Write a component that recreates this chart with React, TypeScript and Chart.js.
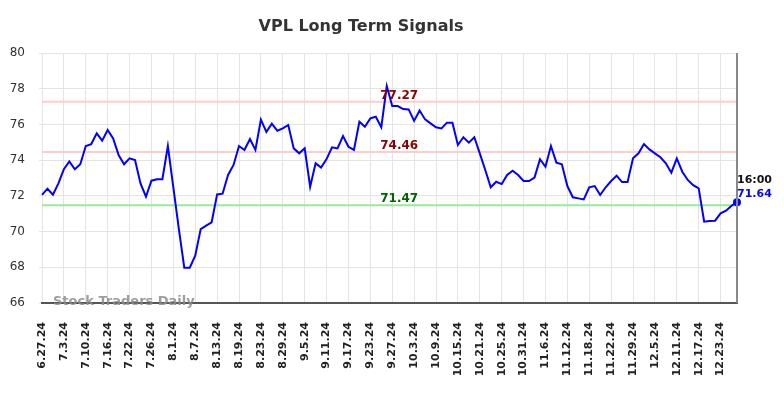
import { useEffect, useRef } from "react";
import { Chart, registerables } from "chart.js";
Chart.register(...registerables);

const dates: string[] = [
  "6.27.24", "6.28.24",
  "7.1.24", "7.2.24", "7.3.24", "7.5.24", "7.8.24", "7.9.24", "7.10.24", "7.11.24", "7.12.24", "7.15.24", "7.16.24", "7.17.24", "7.18.24", "7.19.24", "7.22.24", "7.23.24", "7.24.24", "7.25.24", "7.26.24", "7.29.24", "7.30.24", "7.31.24",
  "8.1.24", "8.2.24", "8.5.24", "8.6.24", "8.7.24", "8.8.24", "8.9.24", "8.12.24", "8.13.24", "8.14.24", "8.15.24", "8.16.24", "8.19.24", "8.20.24", "8.21.24", "8.22.24", "8.23.24", "8.26.24", "8.27.24", "8.28.24", "8.29.24", "8.30.24",
  "9.3.24", "9.4.24", "9.5.24", "9.6.24", "9.9.24", "9.10.24", "9.11.24", "9.12.24", "9.13.24", "9.16.24", "9.17.24", "9.18.24", "9.19.24", "9.20.24", "9.23.24", "9.24.24", "9.25.24", "9.26.24", "9.27.24", "9.30.24",
  "10.1.24", "10.2.24", "10.3.24", "10.4.24", "10.7.24", "10.8.24", "10.9.24", "10.10.24", "10.11.24", "10.14.24", "10.15.24", "10.16.24", "10.17.24", "10.18.24", "10.21.24", "10.22.24", "10.23.24", "10.24.24", "10.25.24", "10.28.24", "10.29.24", "10.30.24", "10.31.24",
  "11.1.24", "11.4.24", "11.5.24", "11.6.24", "11.7.24", "11.8.24", "11.11.24", "11.12.24", "11.13.24", "11.14.24", "11.15.24", "11.18.24", "11.19.24", "11.20.24", "11.21.24", "11.22.24", "11.25.24", "11.26.24", "11.27.24", "11.29.24",
  "12.2.24", "12.3.24", "12.4.24", "12.5.24", "12.6.24", "12.9.24", "12.10.24", "12.11.24", "12.12.24", "12.13.24", "12.16.24", "12.17.24", "12.18.24", "12.19.24", "12.20.24", "12.23.24", "12.24.24", "12.26.24", "12.27.24",
];

const closes: number[] = [
  72.05, 72.4, 72.06, 72.7, 73.49, 73.93, 73.49, 73.77, 74.79, 74.9,
  75.5, 75.09, 75.69, 75.22, 74.29, 73.77, 74.1, 74.0, 72.7, 71.95,
  72.85, 72.93, 72.93, 74.79, 72.48, 70.16, 67.98, 67.98, 68.65, 70.14,
  70.33, 70.52, 72.08, 72.12, 73.17, 73.73, 74.79, 74.57, 75.18, 74.57,
  76.27, 75.58, 76.04, 75.65, 75.78, 75.97, 74.66, 74.38, 74.66, 72.51,
  73.82, 73.58, 74.06, 74.72, 74.66, 75.35, 74.75, 74.57, 76.15, 75.87,
  76.34, 76.43, 75.84, 78.15, 77.03, 77.03, 76.86, 76.84, 76.2, 76.78,
  76.28, 76.06, 75.84, 75.78, 76.1, 76.1, 74.85, 75.28, 74.98, 75.28,
  74.38, 73.45, 72.48, 72.79, 72.66, 73.17, 73.41, 73.17, 72.83, 72.83,
  73.02, 74.05, 73.63, 74.79, 73.86, 73.77, 72.55, 71.92, 71.86, 71.8,
  72.48, 72.55, 72.05, 72.48, 72.83, 73.13, 72.77, 72.77, 74.1, 74.38,
  74.9, 74.6, 74.38, 74.16, 73.82, 73.3, 74.1, 73.35, 72.89, 72.6,
  72.42, 70.55, 70.59, 70.61, 71.02, 71.17, 71.45, 71.64,
];

const levelValues: number[] = [77.27, 74.46, 71.47];
const levelLineColors: string[] = ["#ffcccc", "#ffcccc", "#9be89b"];
const levelTextColors: string[] = ["#8b0000", "#8b0000", "#006400"];
const lastTime = "16:00";
const titleText = "VPL Long Term Signals";
const watermark = "Stock Traders Daily";

export default function App() {
  const ref = useRef<HTMLCanvasElement>(null);
  useEffect(() => {
    document.body.style.margin = "0";
    Chart.defaults.font.family = "'DejaVu Sans', sans-serif";
    const overlay = {
      id: "overlay",
      beforeDatasetsDraw(chart: any) {
        const { ctx, chartArea } = chart;
        const y = chart.scales.y;
        ctx.save();
        levelValues.forEach((v, i) => {
          const py = y.getPixelForValue(v);
          ctx.strokeStyle = levelLineColors[i];
          ctx.lineWidth = 2;
          ctx.beginPath();
          ctx.moveTo(chartArea.left, py);
          ctx.lineTo(chartArea.right, py);
          ctx.stroke();
        });
        ctx.restore();
      },
      afterDraw(chart: any) {
        const { ctx, chartArea } = chart;
        const y = chart.scales.y;
        const x = chart.scales.x;
        ctx.save();
        const cx = chartArea.left + (chartArea.right - chartArea.left) * 0.514;
        ctx.font = "bold 12px 'DejaVu Sans'";
        ctx.textAlign = "center";
        ctx.textBaseline = "alphabetic";
        levelValues.forEach((v, i) => {
          const py = y.getPixelForValue(v);
          ctx.fillStyle = levelTextColors[i];
          ctx.fillText(v.toFixed(2), cx, py - 3);
        });
        ctx.strokeStyle = "#888888";
        ctx.lineWidth = 2;
        ctx.beginPath();
        ctx.moveTo(chartArea.right, chartArea.top);
        ctx.lineTo(chartArea.right, chartArea.bottom);
        ctx.stroke();
        const last = closes.length - 1;
        const lx = x.getPixelForValue(last);
        const ly = y.getPixelForValue(closes[last]);
        ctx.font = "bold 11px 'DejaVu Sans'";
        ctx.textAlign = "left";
        ctx.fillStyle = "#111111";
        ctx.fillText(lastTime, lx, ly - 19);
        ctx.fillStyle = "#0000ff";
        ctx.fillText(closes[last].toFixed(2), lx, ly - 5);
        ctx.font = "bold 16px 'DejaVu Sans'";
        ctx.textAlign = "center";
        ctx.textBaseline = "middle";
        ctx.fillStyle = "#333333";
        ctx.fillText(titleText, 361, 27);
        ctx.font = "bold 13px 'DejaVu Sans'";
        ctx.textAlign = "left";
        ctx.fillStyle = "rgba(140,140,140,0.85)";
        ctx.fillText(watermark, chartArea.left + 11, chartArea.bottom - 1);
        ctx.restore();
      },
    };
    const chart = new Chart(ref.current!, {
      type: "line",
      data: {
        labels: dates,
        datasets: [
          {
            data: closes,
            borderColor: "#0000ff",
            backgroundColor: "#0000ff",
            borderWidth: 2,
            tension: 0,
            pointRadius: (c: any) => (c.dataIndex === closes.length - 1 ? 4 : 0),
            pointBackgroundColor: "#0000ff",
            pointBorderWidth: 0,
          },
        ],
      },
      options: {
        responsive: false,
        animation: false,
        devicePixelRatio: 1,
        layout: { padding: { top: 53, right: 47, left: 0, bottom: 0 } },
        plugins: { legend: { display: false }, tooltip: { enabled: false }, title: { display: false } },
        scales: {
          x: {
            type: "category",
            offset: false,
            afterFit: (s: any) => {
              s.height = 95;
            },
            afterBuildTicks: (s: any) => {
              s.ticks = s.ticks.filter((t: any, i: number) => i % 4 === 0);
            },
            grid: { color: "#e4e4e4", lineWidth: 1, drawTicks: false },
            border: { color: "#555555", width: 2 },
            ticks: {
              autoSkip: false,
              maxRotation: 90,
              minRotation: 90,
              padding: 19,
              color: "#222222",
              font: { size: 11, weight: "bold" },
            },
          },
          y: {
            min: 66,
            max: 80,
            afterFit: (s: any) => {
              s.width = 42;
            },
            grid: { color: "#e4e4e4", lineWidth: 1, drawTicks: true, tickLength: 3 },
            border: { display: false },
            ticks: {
              stepSize: 2,
              padding: 14,
              color: "#333333",
              font: { size: 12 },
            },
          },
        },
      },
      plugins: [overlay],
    } as any);
    return () => chart.destroy();
  }, []);
  return (
    <div style={{ width: 784, height: 398 }}>
      <canvas ref={ref} width={784} height={398} style={{ display: "block" }} />
    </div>
  );
}
